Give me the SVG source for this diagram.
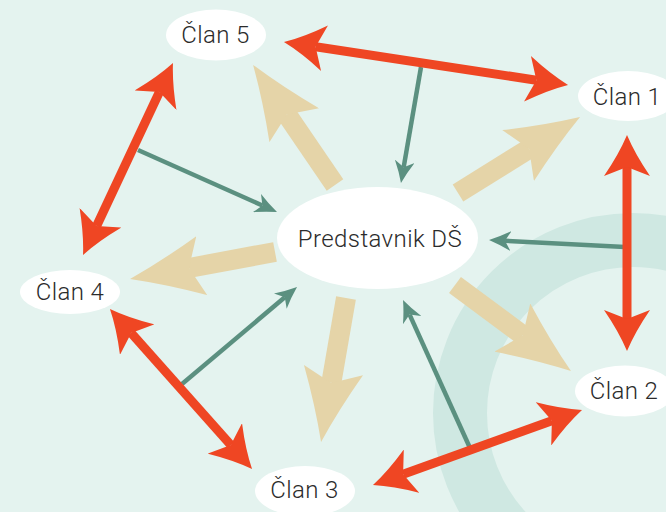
<svg xmlns="http://www.w3.org/2000/svg" width="666" height="512" viewBox="0 0 666 512">
  <style>
    .bg { fill: #e4f3ef; }
    .band { fill: none; stroke: #cfe8e2; stroke-width: 54; }
    .node { fill: #ffffff; }
    .lbl { font-family: Roboto, "Noto Sans", "Liberation Sans", sans-serif; font-size: 24px; letter-spacing: 0.4px; font-weight: 300; fill: #2b2b2b; text-anchor: middle; }
    .red { stroke: #ef4623; stroke-width: 9; fill: none; marker-start: url(#headRed); marker-end: url(#headRed); }
    .green { stroke: #5b9080; stroke-width: 4.5; fill: none; marker-end: url(#headGreen); }
    .beige { stroke: #e5d4a8; stroke-width: 20; fill: none; marker-end: url(#headBeige); }
  </style>
  <defs>
    <marker id="headRed" viewBox="0 -23 41 46" markerWidth="41" markerHeight="46" refX="9" refY="0" orient="auto-start-reverse" markerUnits="userSpaceOnUse">
      <path d="M41,0 Q22,-8 0,-23 L9,0 L0,23 Q22,8 41,0 Z" fill="#ef4623"/>
    </marker>
    <marker id="headGreen" viewBox="0 -10 22 20" markerWidth="22" markerHeight="20" refX="6" refY="0" orient="auto" markerUnits="userSpaceOnUse">
      <path d="M22,0 Q11,-4 0,-10 L6,0 L0,10 Q11,4 22,0 Z" fill="#5b9080"/>
    </marker>
    <marker id="headBeige" viewBox="0 -30 73 60" markerWidth="73" markerHeight="60" refX="13" refY="0" orient="auto" markerUnits="userSpaceOnUse">
      <path d="M73,0 Q38,-12 0,-30 L13,0 L0,30 Q38,12 73,0 Z" fill="#e5d4a8"/>
    </marker>
  </defs>

  <rect class="bg" x="0" y="0" width="666" height="512"/>
  <circle class="band" cx="633" cy="413" r="173"/>

  <g id="connectors">
    <g id="beige-arrows">
      <line class="beige" x1="335" y1="185" x2="286.9" y2="114.5"/>
      <line class="beige" x1="458" y1="193" x2="529.1" y2="148.7"/>
      <line class="beige" x1="275" y1="252" x2="189" y2="268"/>
      <line class="beige" x1="346" y1="298" x2="331.3" y2="382.9"/>
      <line class="beige" x1="455" y1="285" x2="522.8" y2="335.3"/>
    </g>
    <g id="green-arrows">
      <line class="green" x1="421" y1="67" x2="403.7" y2="167.2"/>
      <line class="green" x1="138" y1="150" x2="262.4" y2="205.5"/>
      <line class="green" x1="182" y1="384" x2="284.8" y2="297.3"/>
      <line class="green" x1="470" y1="448" x2="409.6" y2="314.6"/>
      <line class="green" x1="625" y1="247" x2="505" y2="240.8"/>
    </g>
    <g id="red-arrows">
      <line class="red" x1="315.6" y1="46.8" x2="536.4" y2="80.2"/>
      <line class="red" x1="159.4" y1="92" x2="96.6" y2="226"/>
      <line class="red" x1="131.2" y1="332.9" x2="230.8" y2="445.1"/>
      <line class="red" x1="403.1" y1="474.2" x2="551.9" y2="420.8"/>
      <line class="red" x1="627" y1="167" x2="627" y2="319"/>
    </g>
  </g>

  <g id="predstavnik">
    <ellipse class="node" cx="377.5" cy="238" rx="100.5" ry="51"/>
    <text class="lbl" x="380" y="246.5">Predstavnik DŠ</text>
  </g>
  <g id="clan1">
    <ellipse class="node" cx="628" cy="96" rx="50" ry="25"/>
    <text class="lbl" x="627" y="104.5">Član 1</text>
  </g>
  <g id="clan2">
    <ellipse class="node" cx="625" cy="391" rx="50" ry="25.5"/>
    <text class="lbl" x="624" y="398.5">Član 2</text>
  </g>
  <g id="clan3">
    <ellipse class="node" cx="305" cy="491" rx="50" ry="25"/>
    <text class="lbl" x="304.5" y="497.5">Član 3</text>
  </g>
  <g id="clan4">
    <ellipse class="node" cx="70" cy="292" rx="50" ry="22"/>
    <text class="lbl" x="70" y="299.5">Član 4</text>
  </g>
  <g id="clan5">
    <ellipse class="node" cx="216" cy="35" rx="50" ry="25.5"/>
    <text class="lbl" x="215.5" y="42.5">Član 5</text>
  </g>
</svg>
